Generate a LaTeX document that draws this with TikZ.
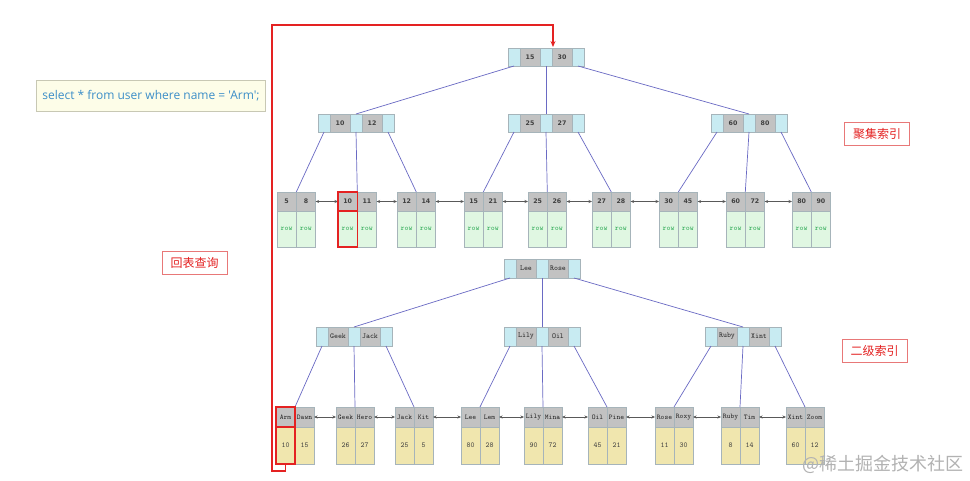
\documentclass[tikz,border=0pt]{standalone}
\usepackage{fontspec}
\newfontfamily\cjk{Noto Sans CJK SC}
\newfontfamily\keyfont{DejaVu Sans}
\newfontfamily\sqlfont{Open Sans}
\usetikzlibrary{arrows.meta,calc,fit}
\definecolor{cblue}{HTML}{C8EBF2}
\definecolor{cgray}{HTML}{C2C2C2}
\definecolor{cborder}{HTML}{A6B4BA}
\definecolor{cgreen}{HTML}{E0F7E2}
\definecolor{ckhaki}{HTML}{F0E6AE}
\definecolor{rowtext}{HTML}{2EAA55}
\definecolor{linkc}{HTML}{6A6AC4}
\definecolor{redc}{HTML}{E42222}
\definecolor{lblborder}{HTML}{E87878}
\definecolor{sqltext}{HTML}{3C8EC8}
\definecolor{sqlfill}{HTML}{FDFDE8}
\definecolor{sqlborder}{HTML}{C8C8B4}
\tikzset{
  cell/.style={draw=cborder, line width=0.5pt, inner sep=0pt, outer sep=0pt, anchor=north west, minimum height=18pt},
  bcell/.style={cell, fill=cblue, minimum width=12pt},
  ckey/.style={cell, fill=cgray, minimum width=20pt, font=\keyfont\bfseries\fontsize{6.3}{7}\selectfont, text=black!75},
  skey/.style={cell, fill=cgray, minimum width=20pt, minimum height=19pt, font=\ttfamily\fontsize{7.5}{8}\selectfont, text=black!85},
  sbcell/.style={bcell, minimum height=19pt},
  chead/.style={cell, fill=cgray, minimum width=19.3pt, minimum height=19pt, font=\keyfont\bfseries\fontsize{6.3}{7}\selectfont, text=black!75},
  cbody/.style={cell, fill=cgreen, minimum width=19.3pt, minimum height=36pt, font=\ttfamily\fontsize{7.5}{8}\selectfont, text=rowtext},
  shead/.style={cell, fill=cgray, minimum width=19pt, minimum height=20pt, font=\ttfamily\fontsize{7.2}{8}\selectfont, text=black!85},
  sbody/.style={cell, fill=ckhaki, minimum width=19pt, minimum height=37pt, font=\ttfamily\fontsize{7.5}{8}\selectfont, text=black!75},
  link/.style={draw=linkc, line width=0.7pt},
  dbl/.style={draw=black!65, line width=0.6pt, {Stealth[length=3.5pt,width=3pt]}-{Stealth[length=3.5pt,width=3pt]}},
  redbox/.style={draw=redc, line width=1.2pt, inner sep=0pt, outer sep=0pt},
  redline/.style={draw=redc, line width=1.1pt},
  lbl/.style={draw=lblborder, line width=0.7pt, fill=white, text=redc, minimum width=65pt, minimum height=23pt, inner sep=0pt, font=\cjk\fontsize{12}{14}\selectfont}
}
% internal node: name, x, y, key1, key2, keystyle, bluestyle
\newcommand\inode[7]{%
  \node[#7] (#1-b1) at (#2,#3) {};
  \node[#6] (#1-k1) at (#1-b1.north east) {#4};
  \node[#7] (#1-b2) at (#1-k1.north east) {};
  \node[#6] (#1-k2) at (#1-b2.north east) {#5};
  \node[#7] (#1-b3) at (#1-k2.north east) {};
}
% leaf: name, x, y, k1, k2, v1, v2, prefix (c or s)
\newcommand\leaf[8]{%
  \node[#8head] (#1-h1) at (#2,#3) {#4};
  \node[#8head] (#1-h2) at (#1-h1.north east) {#5};
  \node[#8body] (#1-d1) at (#1-h1.south west) {#6};
  \node[#8body] (#1-d2) at (#1-h2.south west) {#7};
}
\begin{document}
\begin{tikzpicture}[x=1pt,y=-1pt]
\useasboundingbox[fill=white] (0,0) rectangle (970,480);

% SQL box
\node[draw=sqlborder, fill=sqlfill, line width=0.7pt, minimum width=229pt, minimum height=31pt, inner sep=0pt, text=sqltext, font=\sqlfont\fontsize{12}{14}\selectfont] (sql) at (151,95.5) {select * from user where name = 'Arm';};

% labels
\node[lbl] (lab1) at (877,133.5) {聚集索引};
\node[lbl] (lab2) at (874.5,351) {二级索引};
\node[lbl] (lab3) at (194.5,262.5) {回表查询};

% ===== clustered index =====
\inode{r}{508}{48}{15}{30}{ckey}{bcell}
\inode{a}{318}{114}{10}{12}{ckey}{bcell}
\inode{b}{508}{114}{25}{27}{ckey}{bcell}
\inode{c}{711}{114}{60}{80}{ckey}{bcell}

\leaf{l1}{277}{192}{5}{8}{row}{row}{c}
\leaf{l2}{338}{192}{10}{11}{row}{row}{c}
\leaf{l3}{397}{192}{12}{14}{row}{row}{c}
\leaf{l4}{464}{192}{15}{21}{row}{row}{c}
\leaf{l5}{528}{192}{25}{26}{row}{row}{c}
\leaf{l6}{592}{192}{27}{28}{row}{row}{c}
\leaf{l7}{659}{192}{30}{45}{row}{row}{c}
\leaf{l8}{726}{192}{60}{72}{row}{row}{c}
\leaf{l9}{792}{192}{80}{90}{row}{row}{c}

\draw[link] (r-b1.south) -- (a-b2.north);
\draw[link] (r-b2.south) -- (b-b2.north);
\draw[link] (r-b3.south) -- (c-b2.north);
\draw[link] (a-b1.south) -- (l1-h1.north east);
\draw[link] (a-b2.south) -- (l2-h1.north east);
\draw[link] (a-b3.south) -- (l3-h1.north east);
\draw[link] (b-b1.south) -- (l4-h1.north east);
\draw[link] (b-b2.south) -- (l5-h1.north east);
\draw[link] (b-b3.south) -- (l6-h1.north east);
\draw[link] (c-b1.south) -- (l7-h1.north east);
\draw[link] (c-b2.south) -- (l8-h1.north east);
\draw[link] (c-b3.south) -- (l9-h1.north east);

\foreach \p/\q in {l1/l2,l2/l3,l3/l4,l4/l5,l5/l6,l6/l7,l7/l8,l8/l9}
  \draw[dbl] (\p-h2.east) -- (\q-h1.west);

% ===== secondary index =====
\inode{sr}{504}{259}{Lee}{Rose}{skey}{sbcell}
\inode{sa}{316}{327}{Geek}{Jack}{skey}{sbcell}
\inode{sb}{504}{327}{Lily}{Oil}{skey}{sbcell}
\inode{sc}{705}{327}{Ruby}{Xint}{skey}{sbcell}

\leaf{s1}{276}{407}{Arm}{Dawn}{10}{15}{s}
\leaf{s2}{336}{407}{Geek}{Hero}{26}{27}{s}
\leaf{s3}{395}{407}{Jack}{Kit}{25}{5}{s}
\leaf{s4}{461}{407}{Lee}{Lem}{80}{28}{s}
\leaf{s5}{524}{407}{Lily}{Mina}{90}{72}{s}
\leaf{s6}{588}{407}{Oil}{Pine}{45}{21}{s}
\leaf{s7}{655}{407}{Rose}{Roxy}{11}{30}{s}
\leaf{s8}{721}{407}{Ruby}{Tim}{8}{14}{s}
\leaf{s9}{786}{407}{Xint}{Zoom}{60}{12}{s}

\draw[link] (sr-b1.south) -- (sa-b2.north);
\draw[link] (sr-b2.south) -- (sb-b2.north);
\draw[link] (sr-b3.south) -- (sc-b2.north);
\draw[link] (sa-b1.south) -- (s1-h1.north east);
\draw[link] (sa-b2.south) -- (s2-h1.north east);
\draw[link] (sa-b3.south) -- (s3-h1.north east);
\draw[link] (sb-b1.south) -- (s4-h1.north east);
\draw[link] (sb-b2.south) -- (s5-h1.north east);
\draw[link] (sb-b3.south) -- (s6-h1.north east);
\draw[link] (sc-b1.south) -- (s7-h1.north east);
\draw[link] (sc-b2.south) -- (s8-h1.north east);
\draw[link] (sc-b3.south) -- (s9-h1.north east);

\foreach \p/\q in {s1/s2,s2/s3,s3/s4,s4/s5,s5/s6,s6/s7,s7/s8,s8/s9}
  \draw[dbl] (\p-h2.east) -- (\q-h1.west);

% red highlight boxes
\node[redbox, fit=(l2-h1)] (rc1) {};
\node[redbox, fit=(l2-d1)] (rc2) {};
\node[redbox, fit=(s1-h1)] (rs1) {};
\node[redbox, fit=(s1-d1)] (rs2) {};

% red back-to-table path
\coordinate (rbl) at (272,471);
\coordinate (rtl) at (272,25);
\coordinate (rtr) at (553,25);
\coordinate (rarr) at (553,47);
\draw[redline, -{Stealth[length=6pt,width=5pt]}] (rs2.south) |- (rbl) -- (rtl) -- (rtr) -- (rarr);

% watermark
\node[text=black!30, font=\cjk\fontsize{18}{20}\selectfont, anchor=east, inner sep=0pt] (wm) at (964,464) {@稀土掘金技术社区};
\end{tikzpicture}
\end{document}
